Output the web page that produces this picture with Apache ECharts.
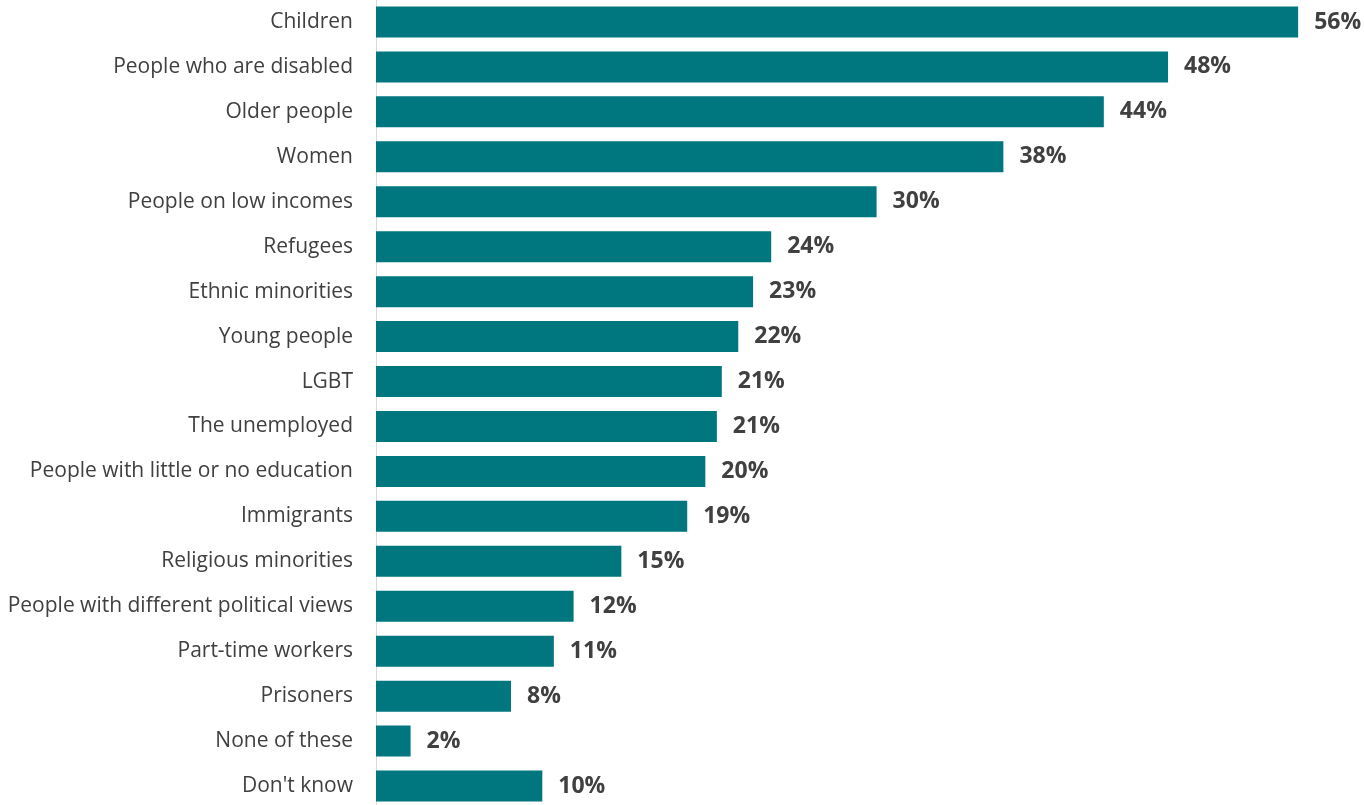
<!DOCTYPE html>
<html>
<head>
<meta charset="utf-8">
<script src="https://cdn.jsdelivr.net/npm/echarts@6/dist/echarts.min.js"></script>
<style>
  html, body { margin: 0; padding: 0; background: #fff; }
  #chart { width: 1364px; height: 805px; }
</style>
</head>
<body>
<div id="chart"></div>
<script>
var categories = ['Children', 'People who are disabled', 'Older people', 'Women',
    'People on low incomes', 'Refugees', 'Ethnic minorities', 'Young people', 'LGBT',
    'The unemployed', 'People with little or no education', 'Immigrants',
    'Religious minorities', 'People with different political views',
    'Part-time workers', 'Prisoners', 'None of these', "Don't know"];
var values = [56, 48.1, 44.2, 38.1, 30.4, 24, 22.9, 22, 21, 20.7, 20, 18.9, 14.9, 12, 10.8, 8.2, 2.1, 10.1];

var myEcharts = echarts.init(document.getElementById('chart'));
var option = {
    animation: false,
    grid: {
        left: 376,
        right: 0,
        top: -0.5,
        bottom: -3.5,
        outerBoundsMode: 'none'
    },
    xAxis: {
        type: 'value',
        min: 0,
        max: 60,
        show: false,
        splitLine: { show: false }
    },
    yAxis: {
        type: 'category',
        data: categories,
        inverse: true,
        axisTick: { show: false },
        axisLine: { show: true, lineStyle: { color: '#d9d9d9', width: 1 } },
        axisLabel: {
            margin: 23,
            color: '#404040',
            fontFamily: 'Open Sans',
            fontSize: 21
        }
    },
    series: [{
        type: 'bar',
        data: values,
        barWidth: 31,
        itemStyle: { color: '#00777f' },
        label: {
            show: true,
            position: 'right',
            distance: 16,
            color: '#404040',
            fontFamily: 'Open Sans',
            fontWeight: 'bold',
            fontSize: 23,
            formatter: function (p) { return Math.round(p.value) + '%'; }
        }
    }]
};
myEcharts.setOption(option);
</script>
</body>
</html>
